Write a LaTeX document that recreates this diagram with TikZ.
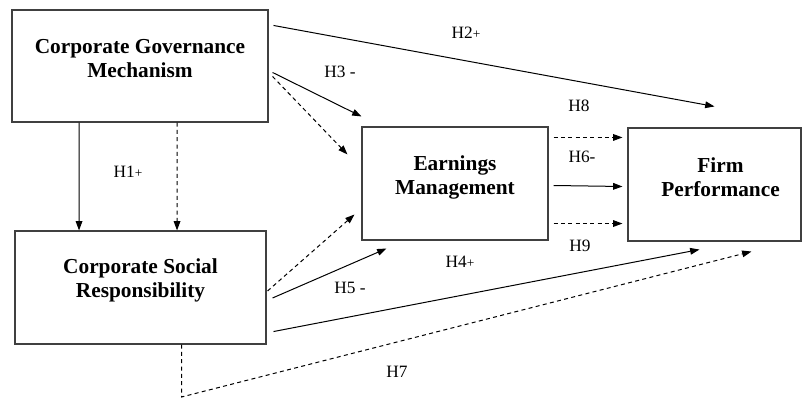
\documentclass[tikz,border=0pt]{standalone}
\usepackage{fontspec}
\setmainfont{Liberation Serif}
\usepackage{tikz}
\usetikzlibrary{positioning}
\usetikzlibrary{arrows.meta}

\tikzset{
  box/.style={draw=black!75, line width=0.8pt, rectangle, inner sep=0pt},
  title/.style={font=\bfseries\fontsize{16}{18}\selectfont, align=center},
  hyp/.style={font=\fontsize{13}{15}\selectfont},
  link/.style={line width=0.75pt, -{Triangle[length=7pt, width=5pt]}},
  dlink/.style={link, dash pattern=on 3pt off 2.5pt}
}
\newcommand{\smallplus}{{\fontsize{10}{10}\selectfont+}}

\begin{document}
\begin{tikzpicture}[x=0.75pt, y=-0.75pt]
    \useasboundingbox (0,0) rectangle (803,399);

    % the four boxes
    \node[box, minimum width=192pt, minimum height=84pt] (cgm) at (140,66) {};
    \node[box, minimum width=188.25pt, minimum height=84.75pt] (csr) at (140.5,287.5) {};
    \node[box, minimum width=139.5pt, minimum height=84.75pt] (em) at (455,183.5) {};
    \node[box, minimum width=129.75pt, minimum height=84.75pt] (fp) at (714.5,184.5) {};

    % the titles of the boxes
    \node[title] (cgmtitle) at ([shift={(0,-7)}]cgm.center) {Corporate Governance\\Mechanism};
    \node[title] (csrtitle) at ([shift={(0,-7)}]csr.center) {Corporate Social\\Responsibility};
    \node[title] (emtitle) at ([shift={(0,-6)}]em.center) {Earnings\\Management};
    \node[title] (fptitle) at ([shift={(6,-7)}]fp.center) {Firm\\Performance};

    % governance to social responsibility
    \draw[link] ([xshift=-45.75pt]cgm.south) -- ([xshift=-46.1pt]csr.north);
    \draw[dlink] ([xshift=27.75pt]cgm.south) -- ([xshift=27.4pt]csr.north);

    % governance to performance and earnings
    \draw[link] ([shift={(5,16)}]cgm.north east) -- ([shift={(0,-21)}]fp.north);
    \draw[link] ([shift={(4,63)}]cgm.north east) -- ([shift={(0,-10)}]em.north west);
    \draw[dlink] ([shift={(4,67)}]cgm.north east) -- ([shift={(-14,28)}]em.north west);

    % earnings to performance
    \draw[dlink] ([shift={(5,11)}]em.north east) -- ([shift={(-5,10)}]fp.north west);
    \draw[link] ([shift={(5,2)}]em.east) -- ([shift={(-5,2)}]fp.west);
    \draw[dlink] ([shift={(5,-17)}]em.south east) -- ([shift={(-5,-18)}]fp.south west);

    % social responsibility to earnings and performance
    \draw[dlink] ([shift={(1,3.5)}]csr.east) -- ([shift={(-7,-26)}]em.south west);
    \draw[link] ([shift={(6,10.5)}]csr.east) -- ([shift={(25,8)}]em.south west);
    \draw[link] ([shift={(7,-13)}]csr.south east) -- ([shift={(72,8)}]fp.south west);

    % the long dashed path
    \coordinate (bend) at (181.5,397);
    \draw[dlink] ([xshift=30.75pt]csr.south) -- (bend) -- ([shift={(124,10)}]fp.south west);

    % the hypothesis labels
    \node[hyp] (h1) at (128,172) {H1\smallplus};
    \node[hyp] (h2) at (466,33) {H2\smallplus};
    \node[hyp] (h3) at (340,72) {H3 -};
    \node[hyp] (h8) at (579,106) {H8};
    \node[hyp] (h6) at (582,157) {H6-};
    \node[hyp] (h9) at (580,246) {H9};
    \node[hyp] (h4) at (460,262) {H4\smallplus};
    \node[hyp] (h5) at (350,288) {H5 -};
    \node[hyp] (h7) at (397,372) {H7};

\end{tikzpicture}
\end{document}
